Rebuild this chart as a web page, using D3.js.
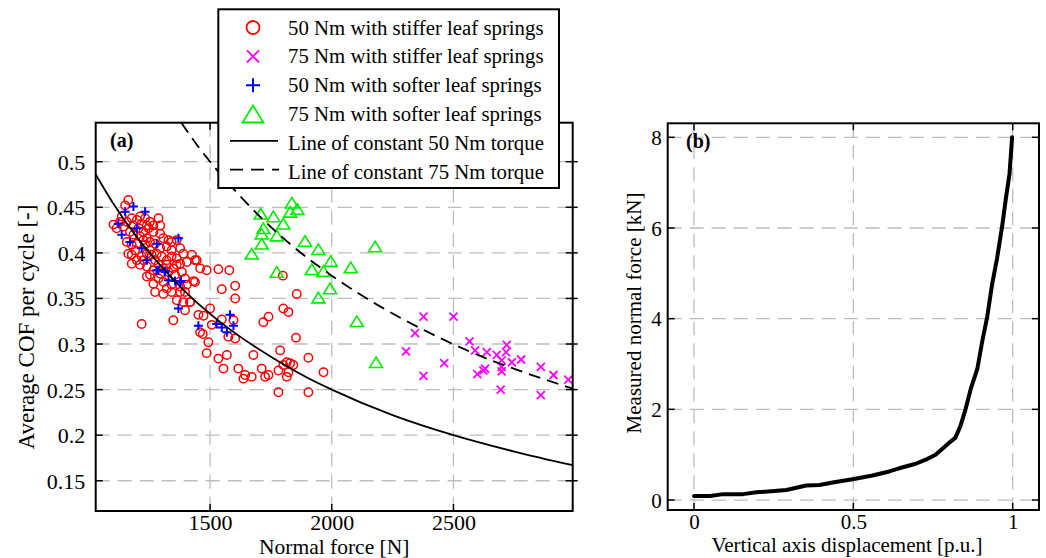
<!DOCTYPE html>
<html><head><meta charset="utf-8">
<script src="https://cdn.jsdelivr.net/npm/d3@7"></script>
<style>
body{margin:0;background:#fff}
svg text{font-family:"Liberation Serif","Times New Roman",serif;fill:#000}
</style>
</head><body>
<svg id="c" width="1046" height="558" xmlns="http://www.w3.org/2000/svg" font-family="Liberation Serif, Times New Roman, serif"></svg>
<script>
// ---------- Panel (a) data: [normal force N, average COF] ----------
const stiffer50 = [
[1164,0.458],[1151,0.452],[1103,0.431],[1116,0.427],[1137,0.440],[1158,0.434],[1178,0.438],[1199,0.436],
[1212,0.440],[1233,0.438],[1253,0.434],[1288,0.438],[1295,0.430],[1171,0.423],[1185,0.420],[1206,0.427],
[1226,0.423],[1247,0.427],[1267,0.423],[1308,0.416],[1329,0.414],[1342,0.412],[1363,0.414],[1158,0.412],
[1178,0.409],[1199,0.410],[1226,0.414],[1253,0.412],[1274,0.410],[1322,0.407],[1342,0.403],[1377,0.405],
[1390,0.399],[1425,0.398],[1445,0.392],[1459,0.383],[1164,0.399],[1178,0.388],[1199,0.392],[1219,0.396],
[1240,0.399],[1260,0.398],[1281,0.399],[1301,0.396],[1322,0.392],[1342,0.396],[1363,0.394],[1377,0.388],
[1212,0.387],[1240,0.385],[1267,0.381],[1288,0.387],[1308,0.383],[1329,0.379],[1349,0.383],[1384,0.379],
[1438,0.368],[1267,0.366],[1288,0.372],[1308,0.368],[1342,0.365],[1377,0.363],[1274,0.357],[1308,0.355],
[1342,0.357],[1377,0.357],[1363,0.348],[1418,0.346],[1404,0.365],[1219,0.322],
[1130,0.434],[1144,0.429],[1185,0.430],[1219,0.432],[1240,0.430],[1267,0.430],[1212,0.418],[1240,0.416],
[1295,0.421],[1192,0.403],[1233,0.409],[1295,0.405],[1253,0.403],[1178,0.398],[1274,0.392],[1226,0.392],
[1322,0.387],[1363,0.387],[1404,0.390],[1253,0.376],[1356,0.376],[1397,0.372],[1322,0.361],[1397,0.357],
[1240,0.374],[1295,0.377],
[1438,0.392],[1486,0.381],[1534,0.382],[1579,0.381],[1432,0.369],[1548,0.360],[1603,0.364],[1603,0.350],
[1390,0.346],[1418,0.346],[1397,0.337],[1349,0.326],[1452,0.332],[1473,0.331],[1500,0.339],[1507,0.321],
[1459,0.313],[1470,0.311],[1548,0.327],[1596,0.326],[1575,0.308],[1603,0.306],[1493,0.302],[1486,0.290],
[1569,0.288],[1534,0.284],[1555,0.273],[1616,0.273],[1644,0.266],[1637,0.262],[1671,0.264],[1678,0.288],
[1712,0.273],[1726,0.264],[1740,0.266],[1781,0.271],[1788,0.293],[1801,0.277],[1815,0.280],[1829,0.279],
[1842,0.277],[1822,0.269],[1815,0.264],[1781,0.247],[1904,0.247],[1904,0.285],[1966,0.269],[1856,0.355],
[1801,0.339],[1822,0.335],[1740,0.330],[1719,0.324],[1853,0.307],[1799,0.375]
];
const stiffer75 = [
[2377,0.330],[2500,0.330],[2342,0.312],[2305,0.292],[2462,0.279],[2377,0.265],[2566,0.303],[2589,0.293],
[2637,0.291],[2678,0.288],[2719,0.299],[2716,0.291],[2698,0.282],[2740,0.280],[2778,0.283],[2630,0.273],
[2623,0.271],[2598,0.267],[2698,0.275],[2698,0.270],[2694,0.250],[2859,0.275],[2859,0.244],[2911,0.266],
[2972,0.261]
];
const softer50 = [
[1185,0.451],[1151,0.445],[1233,0.445],[1123,0.432],[1199,0.427],[1137,0.420],[1171,0.412],[1219,0.405],
[1281,0.410],[1370,0.416],[1240,0.392],[1288,0.381],[1315,0.379],[1329,0.370],[1377,0.368],
[1281,0.381],[1315,0.380],[1356,0.369],[1380,0.369],[1370,0.339],[1452,0.320],[1527,0.322],[1548,0.318],
[1569,0.313],[1582,0.332],[1596,0.320]
];
const softer75 = [
[1836,0.455],[1708,0.443],[1760,0.440],[1829,0.445],[1859,0.448],[1801,0.432],[1719,0.427],[1712,0.421],
[1774,0.419],[1712,0.410],[1671,0.399],[1890,0.413],[1945,0.404],[1996,0.391],[1918,0.382],[1966,0.380],
[2078,0.384],[2178,0.407],[1774,0.379],[1993,0.361],[1945,0.351],[2103,0.325],[2182,0.280]
];
// lines of constant torque
const torque50Line = [[1030,0.486],[1100,0.455],[1200,0.417],[1300,0.385],[1400,0.357],[1500,0.333],[1600,0.3125],
[1750,0.286],[1900,0.263],[2000,0.25],[2250,0.222],[2500,0.2],[2750,0.182],[2990,0.167]];
const torque75Line = [[1381,0.543],[1450,0.517],[1500,0.5],[1600,0.469],[1700,0.441],[1850,0.405],[2000,0.375],
[2200,0.341],[2400,0.3125],[2600,0.288],[2800,0.268],[2990,0.251]];
const forceTicks = [1500,2000,2500];
const cofTicks = [0.15,0.2,0.25,0.3,0.35,0.4,0.45,0.5];
const legendLabels = ["50 Nm with stiffer leaf springs","75 Nm with stiffer leaf springs",
"50 Nm with softer leaf springs","75 Nm with softer leaf springs",
"Line of constant 50 Nm torque","Line of constant 75 Nm torque"];

// ---------- Panel (b) data: [displacement p.u., force kN] ----------
const dispCurve = [[0,0.09],[0.05,0.09],[0.092,0.13],[0.154,0.13],[0.196,0.17],[0.29,0.22],[0.352,0.32],[0.394,0.33],
[0.435,0.385],[0.498,0.46],[0.56,0.54],[0.6125,0.63],[0.644,0.70],[0.696,0.80],[0.727,0.89],[0.758,1.0],
[0.80,1.26],[0.82,1.37],[0.836,1.63],[0.852,2.0],[0.868,2.44],[0.889,2.89],[0.904,3.48],[0.92,4.04],
[0.935,4.74],[0.951,5.33],[0.967,6.04],[0.979,6.67],[0.99,7.19],[0.996,7.78],[0.998,8.0]];
const dispTicks = [0,0.5,1];
const forceKNTicks = [0,2,4,6,8];

const FONT = '"Liberation Serif","Times New Roman",serif';
const svg = d3.select("#c");
const GRID = "#bdbdbd";

function frameAndGrid(g, x, y, xt, yt){
  const [x0,x1] = x.range(), [y0,y1] = y.range();
  g.append("g").selectAll("line").data(xt).join("line")
    .attr("x1",d=>x(d)).attr("x2",d=>x(d)).attr("y1",y1).attr("y2",y0)
    .attr("stroke",GRID).attr("stroke-width",1.3).attr("stroke-dasharray","14,8");
  g.append("g").selectAll("line").data(yt).join("line")
    .attr("y1",d=>y(d)).attr("y2",d=>y(d)).attr("x1",x0).attr("x2",x1)
    .attr("stroke",GRID).attr("stroke-width",1.3).attr("stroke-dasharray","14,8");
}
function axesAndTicks(g, x, y, xt, yt, fs, xfmt, yfmt, rightOut, pad){
  const [x0,x1] = x.range(), [y0,y1] = y.range();
  const tl = 7;
  const tk = g.append("g").attr("stroke","#000").attr("stroke-width",1.5);
  xt.forEach(d=>{
    tk.append("line").attr("x1",x(d)).attr("x2",x(d)).attr("y1",y0).attr("y2",y0-tl);
    tk.append("line").attr("x1",x(d)).attr("x2",x(d)).attr("y1",y1).attr("y2",y1+tl);
  });
  yt.forEach(d=>{
    tk.append("line").attr("y1",y(d)).attr("y2",y(d)).attr("x1",x0).attr("x2",x0+tl);
    tk.append("line").attr("y1",y(d)).attr("y2",y(d)).attr("x1",x1+(rightOut||0)).attr("x2",x1-tl);
  });
  const ax = g.append("g").attr("transform",`translate(0,${y0})`)
    .call(d3.axisBottom(x).tickValues(xt).tickFormat(xfmt).tickSize(0))
    .attr("font-family",FONT).attr("font-size",fs);
  ax.select(".domain").remove();
  ax.selectAll("text").attr("dy",null).attr("y",18.5).style("font-family",FONT).style("font-size",fs+"px");
  const ay = g.append("g").attr("transform",`translate(${x0},0)`)
    .call(d3.axisLeft(y).tickValues(yt).tickFormat(yfmt).tickSize(0).tickPadding(pad))
    .attr("font-family",FONT).attr("font-size",fs);
  ay.select(".domain").remove();
  ay.selectAll("text").attr("dy","0.34em").style("font-family",FONT).style("font-size",fs+"px");
  g.append("rect").attr("x",x0).attr("y",y1).attr("width",x1-x0).attr("height",y0-y1)
    .attr("fill","none").attr("stroke","#000").attr("stroke-width",2);
}

// ================= Panel (a) =================
const xA = d3.scaleLinear().domain([1030,2990]).range([95.7,572.7]);
const yA = d3.scaleLinear().domain([0.1168,0.5428]).range([511,122.7]);
svg.append("defs").html(`<clipPath id="clipA"><rect x="95.7" y="122.7" width="477" height="388.3"/></clipPath>
<clipPath id="clipB"><rect x="667.7" y="123.3" width="371.3" height="386.7"/></clipPath>`);
const gA = svg.append("g");
frameAndGrid(gA, xA, yA, forceTicks, cofTicks);

const pA = gA.append("g").attr("clip-path","url(#clipA)");
pA.append("g").selectAll("circle").data(stiffer50).join("circle")
  .attr("cx",d=>xA(d[0])).attr("cy",d=>yA(d[1])).attr("r",4.2)
  .attr("fill","none").attr("stroke","#ff0000").attr("stroke-width",1.5);
pA.append("g").selectAll("path").data(stiffer75).join("path")
  .attr("transform",d=>`translate(${xA(d[0])},${yA(d[1])})`)
  .attr("d","M-4,-4L4,4M-4,4L4,-4").attr("stroke","#ff00ff").attr("stroke-width",1.8).attr("fill","none");
pA.append("g").selectAll("path").data(softer50).join("path")
  .attr("transform",d=>`translate(${xA(d[0])},${yA(d[1])})`)
  .attr("d","M-4.5,0L4.5,0M0,-4.5L0,4.5").attr("stroke","#0000ff").attr("stroke-width",2).attr("fill","none");
pA.append("g").selectAll("path").data(softer75).join("path")
  .attr("transform",d=>`translate(${xA(d[0])},${yA(d[1])})`)
  .attr("d","M0,-5.3L6.5,5.3L-6.5,5.3Z").attr("stroke","#00ee00").attr("stroke-width",1.6).attr("fill","none");
const lineA = d3.line().x(d=>xA(d[0])).y(d=>yA(d[1])).curve(d3.curveMonotoneX);
pA.append("path").datum(torque50Line).attr("d",lineA).attr("fill","none").attr("stroke","#000").attr("stroke-width",1.8);
pA.append("path").datum(torque75Line).attr("d",lineA).attr("fill","none").attr("stroke","#000").attr("stroke-width",1.8)
  .attr("stroke-dasharray","12,7");

axesAndTicks(gA, xA, yA, forceTicks, cofTicks, 22, d3.format("d"), d=>String(d), 5, 10.5);
gA.append("text").attr("x",110).attr("y",147).attr("font-size",20).attr("font-weight","bold").text("(a)");
gA.append("text").attr("x",(95.7+572.7)/2).attr("y",553.5).attr("text-anchor","middle").attr("font-size",21.5).text("Normal force [N]");
gA.append("text").attr("transform","translate(34,327) rotate(-90)").attr("text-anchor","middle").attr("font-size",23)
  .text("Average COF per cycle [-]");

// legend
const lg = svg.append("g");
lg.append("rect").attr("x",218.3).attr("y",9.3).attr("width",340.7).attr("height",178.7)
  .attr("fill","#fff").attr("stroke","#000").attr("stroke-width",2);
const rowY = d3.scalePoint().domain(legendLabels).range([27.5,171.7]);
legendLabels.forEach((t,i)=>{
  const cy = rowY(t);
  const m = lg.append("g").attr("transform",`translate(253,${cy})`).attr("fill","none");
  if(i===0) m.append("circle").attr("r",6.5).attr("stroke","#ff0000").attr("stroke-width",1.8);
  if(i===1) m.append("path").attr("d","M-6,-6L6,6M-6,6L6,-6").attr("stroke","#ff00ff").attr("stroke-width",2);
  if(i===2) m.append("path").attr("d","M-7,0L7,0M0,-7L0,7").attr("stroke","#0000ff").attr("stroke-width",2);
  if(i===3) m.append("path").attr("d","M0,-8.5L10.5,8.5L-10.5,8.5Z").attr("stroke","#00ee00").attr("stroke-width",1.8);
  if(i===4) lg.append("line").attr("x1",230).attr("x2",278).attr("y1",cy-2).attr("y2",cy-2).attr("stroke","#000").attr("stroke-width",1.8);
  if(i===5) lg.append("line").attr("x1",230).attr("x2",279).attr("y1",cy-2).attr("y2",cy-2).attr("stroke","#000").attr("stroke-width",1.8).attr("stroke-dasharray","13,8");
  lg.append("text").attr("x",288).attr("y",cy+7).attr("font-size",20.8).text(t);
});

// ================= Panel (b) =================
const xB = d3.scaleLinear().domain([-0.0826,1.0826]).range([667.7,1039]);
const yB = d3.scaleLinear().domain([-0.22,8.309]).range([510,123.3]);
const gB = svg.append("g");
frameAndGrid(gB, xB, yB, dispTicks, forceKNTicks);
gB.append("g").attr("clip-path","url(#clipB)").append("path").datum(dispCurve)
  .attr("d",d3.line().x(d=>xB(d[0])).y(d=>yB(d[1])))
  .attr("fill","none").attr("stroke","#000").attr("stroke-width",4).attr("stroke-linejoin","round").attr("stroke-linecap","round");
axesAndTicks(gB, xB, yB, dispTicks, forceKNTicks, 21, d=>String(d), d=>String(d), 0, 6);
gB.append("text").attr("x",686).attr("y",148).attr("font-size",20).attr("font-weight","bold").text("(b)");
gB.append("text").attr("x",847).attr("y",552).attr("text-anchor","middle").attr("font-size",21).text("Vertical axis displacement [p.u.]");
gB.append("text").attr("transform","translate(641,313) rotate(-90)").attr("text-anchor","middle").attr("font-size",21)
  .text("Measured normal force [kN]");
</script>
</body></html>
